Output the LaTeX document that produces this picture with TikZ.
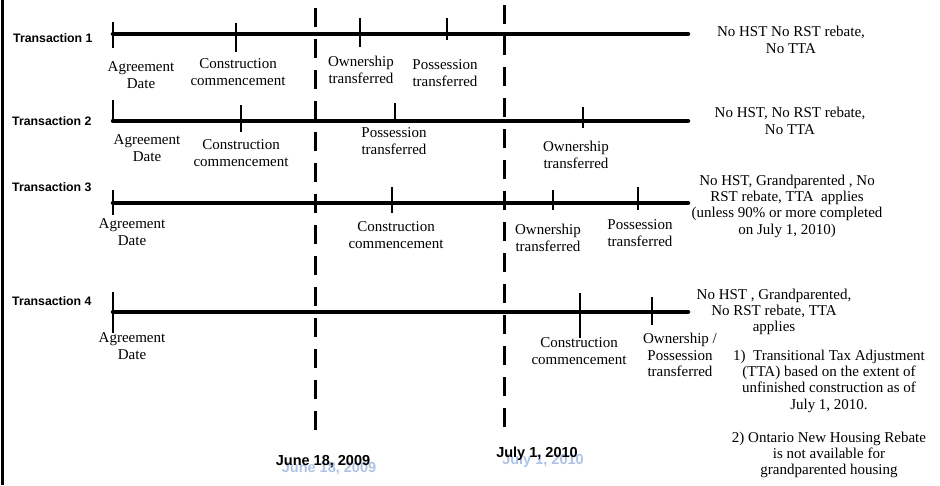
\documentclass[tikz,border=0pt]{standalone}
\usepackage{fontspec}
\setmainfont{Liberation Serif}
\newfontfamily\labelsans{Liberation Sans}
\definecolor{ghostblue}{RGB}{175,195,228}
\tikzset{
  tline/.style={line width=4.5pt, line cap=round},
  tick/.style={line width=1.1pt},
  dline/.style={line width=3pt, dash pattern=on 19pt off 12pt},
  lbl/.style={align=center, inner sep=0pt, font=\fontsize{15}{16.3}\selectfont},
  tname/.style={anchor=west, inner sep=0pt, font=\labelsans\bfseries\fontsize{12.3}{14}\selectfont},
  dname/.style={inner sep=0pt, font=\labelsans\bfseries\fontsize{14.5}{16}\selectfont},
  ghost/.style={dname, text=ghostblue}
}
\begin{document}
\begin{tikzpicture}[x=1pt,y=-1pt]
\useasboundingbox (0,0) rectangle (940,485);
\fill[white] (0,0) rectangle (940,485);
% left border
\draw[line width=3pt] (2.5,0) -- (2.5,485);

% transaction names
\node[tname] (n1) at (13,38) {Transaction 1};
\node[tname] (n2) at (12,121) {Transaction 2};
\node[tname] (n3) at (12,187) {Transaction 3};
\node[tname] (n4) at (12,301) {Transaction 4};

% timelines
\coordinate (a1) at (113,34);  \coordinate (b1) at (688,34);
\coordinate (a2) at (113,121); \coordinate (b2) at (688,121);
\coordinate (a3) at (113,203); \coordinate (b3) at (688,203);
\coordinate (a4) at (113,312); \coordinate (b4) at (688,312);
\draw[tline] (a1) -- (b1);
\draw[tline] (a2) -- (b2);
\draw[tline] (a3) -- (b3);
\draw[tline] (a4) -- (b4);

% dashed date lines
\coordinate (j1) at (315,8);  \coordinate (j2) at (315,440);
\coordinate (k1) at (504,5);  \coordinate (k2) at (504,437);
\draw[dline] (j1) -- (j2);
\draw[dline] (k1) -- (k2);

% ticks T1
\draw[tick] (113,22) -- (113,48);
\draw[tick] (236,23) -- (236,52);
\draw[tick] (360,18) -- (360,47);
\draw[tick] (447,18) -- (447,40);
% ticks T2
\draw[tick] (113,100) -- (113,121);
\draw[tick] (241,105) -- (241,132);
\draw[tick] (395,103) -- (395,121);
\draw[tick] (583,107) -- (583,128);
% ticks T3
\draw[tick] (113,190) -- (113,215);
\draw[tick] (392,187) -- (392,213);
\draw[tick] (553,190) -- (553,210);
\draw[tick] (638,187) -- (638,210);
% ticks T4
\draw[tick] (113,292) -- (113,333);
\draw[tick] (580,293) -- (580,338);
\draw[tick] (652,297) -- (652,325);

% labels T1
\node[lbl] (t1a) at (141,75) {Agreement\\Date};
\node[lbl] (t1c) at (238,72) {Construction\\commencement};
\node[lbl] (t1o) at (361,70) {Ownership\\transferred};
\node[lbl] (t1p) at (445,73) {Possession\\transferred};
\node[lbl] (t1r) at (791,40) {No HST No RST rebate,\\No TTA};
% labels T2
\node[lbl] (t2a) at (147,148) {Agreement\\Date};
\node[lbl] (t2c) at (241,153) {Construction\\commencement};
\node[lbl] (t2p) at (394,141) {Possession\\transferred};
\node[lbl] (t2o) at (576,155) {Ownership\\transferred};
\node[lbl] (t2r) at (790,121) {No HST, No RST rebate,\\No TTA};
% labels T3
\node[lbl] (t3a) at (132,232) {Agreement\\Date};
\node[lbl] (t3c) at (396,235) {Construction\\commencement};
\node[lbl] (t3o) at (548,238) {Ownership\\transferred};
\node[lbl] (t3p) at (640,233) {Possession\\transferred};
\node[lbl] (t3r) at (787,206) {No HST, Grandparented , No\\RST rebate, TTA\ \ applies\\(unless 90\% or more completed\\on July 1, 2010)};
% labels T4
\node[lbl] (t4a) at (132,346) {Agreement\\Date};
\node[lbl] (t4c) at (579,351) {Construction\\commencement};
\node[lbl] (t4o) at (680,355) {Ownership /\\Possession\\transferred};
\node[lbl] (t4r) at (774,312) {No HST , Grandparented,\\No RST rebate, TTA\\applies};

% notes
\node[lbl] (note1) at (829,381) {1)\ \ Transitional Tax Adjustment\\(TTA) based on the extent of\\unfinished construction as of\\July 1, 2010.};
\node[lbl] (note2) at (829,455) {2) Ontario New Housing Rebate\\is not available for\\grandparented housing};

% dates (ghost copies then black)
\node[ghost] (g1) at (329,469) {June 18, 2009};
\node[ghost] (g2) at (543,461) {July 1, 2010};
\node[dname] (d1) at (323,462) {June 18, 2009};
\node[dname] (d2) at (537,454) {July 1, 2010};
\end{tikzpicture}
\end{document}
